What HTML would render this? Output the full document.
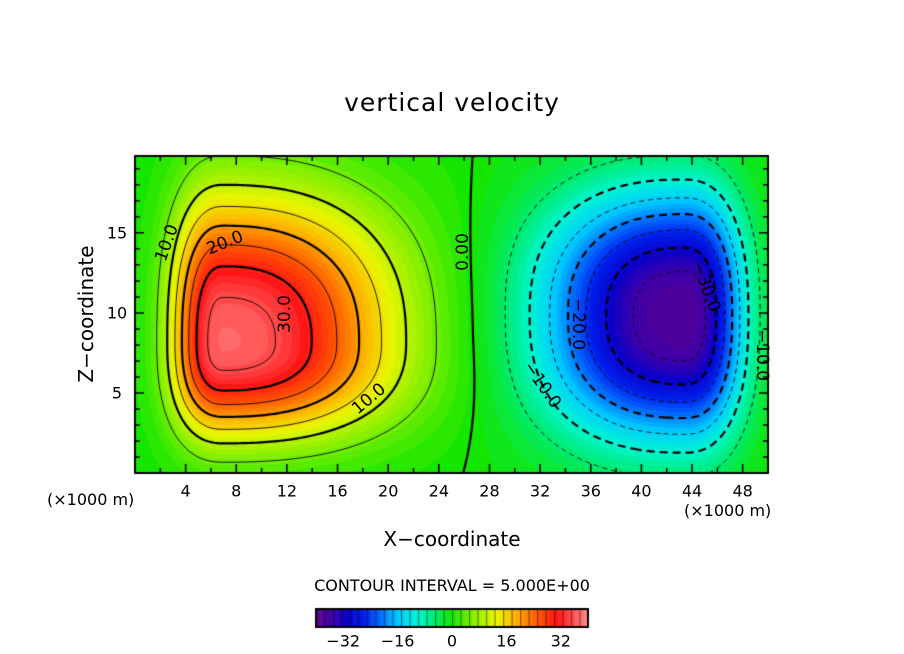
<!DOCTYPE html>
<html><head><meta charset="utf-8">
<style>
html,body{margin:0;padding:0;background:#fff;}
#wrap{position:relative;width:904px;height:654px;overflow:hidden;font-family:"DejaVu Sans","Liberation Sans",sans-serif;color:#000;}
.t{position:absolute;white-space:nowrap;}
canvas{position:absolute;left:0;top:0;}
</style></head>
<body>
<div id="wrap">
<canvas id="cv" width="904" height="654"></canvas>
<div class="t" style="left:0;width:904px;text-align:center;top:88px;font-size:25px;letter-spacing:1px;">vertical velocity</div>
<div class="t" style="left:86px;top:314px;font-size:20px;transform:translate(-50%,-50%) rotate(-90deg);">Z−coordinate</div>
<div class="t" style="left:0;width:904px;text-align:center;top:527px;font-size:20px;">X−coordinate</div>
<div class="t" style="left:47px;top:490px;font-size:16px;">(×1000 m)</div>
<div class="t" style="left:684px;top:501px;font-size:16px;">(×1000 m)</div>
<div class="t" style="left:0;width:904px;text-align:center;top:576px;font-size:16px;">CONTOUR INTERVAL = 5.000E+00</div>
<div id="labels"></div>
</div>
<script>
// Field model data (blob parameters)
const blobAmp = [37, -38];
const blobX = [7, 43.4];
const blobZ = [8.2, 9.8];
const blobSxLeft = [4, 11];
const blobSxRight = [13, 4.5];
const blobSzDown = [5.7, 7.6];
const blobSzUp = [8.8, 7.6];
const xTicks = [4, 8, 12, 16, 20, 24, 28, 32, 36, 40, 44, 48];
const zTicks = [5, 10, 15];
const cbTicks = [-32, -16, 0, 16, 32];
const levels = [-35, -30, -25, -20, -15, -10, -5, 0, 5, 10, 15, 20, 25, 30, 35];

const PL = 135, PR = 768, PT = 156, PB = 473;
const XMAX = 50, ZMAX = 19.8;
const sx = x => PL + x / XMAX * (PR - PL);
const sz = z => PB - z / ZMAX * (PB - PT);
const CBL = 316, CBR = 588, CBT = 609, CBB = 627, CMIN = -40, CMAX = 40;
const cx = v => CBL + (v - CMIN) / (CMAX - CMIN) * (CBR - CBL);

function field(x, z) {
  let f = 0;
  for (let i = 0; i < blobAmp.length; i++) {
    const dx = x - blobX[i], dz = z - blobZ[i];
    const ax = dx < 0 ? blobSxLeft[i] : blobSxRight[i];
    const az = dz < 0 ? blobSzDown[i] : blobSzUp[i];
    const r = Math.pow(Math.abs(dx / ax) ** 2.4 + Math.abs(dz / az) ** 2.4, 1 / 2.4);
    f += blobAmp[i] * Math.exp(-(r ** 2.5));
  }
  return f;
}
const stops = [[-40,[95,0,140]],[-35,[60,0,170]],[-31,[10,0,200]],[-26,[0,30,235]],[-21,[0,110,255]],[-16,[0,200,255]],[-10,[0,245,210]],[-5,[0,235,110]],[0,[20,230,0]],[6,[130,240,0]],[13,[235,245,0]],[19,[255,175,0]],[25,[255,90,0]],[31,[255,20,20]],[40,[255,140,140]]];
function color(v) {
  v = Math.max(-40, Math.min(40, v));
  for (let i = 0; i < stops.length - 1; i++) {
    const [a, ca] = stops[i], [b, cb] = stops[i + 1];
    if (v <= b) { const t = (v - a) / (b - a); return ca.map((c, k) => Math.round(c + (cb[k] - c) * t)); }
  }
  return stops[stops.length - 1][1];
}
const cv = document.getElementById('cv'), ctx = cv.getContext('2d');
const img = ctx.createImageData(PR - PL, PB - PT);
for (let py = 0; py < PB - PT; py++) for (let px = 0; px < PR - PL; px++) {
  const x = (px + 0.5) / (PR - PL) * XMAX, z = ZMAX - (py + 0.5) / (PB - PT) * ZMAX;
  const v = Math.round(field(x, z) / 1.25) * 1.25;
  const c = color(v), o = (py * (PR - PL) + px) * 4;
  img.data[o] = c[0]; img.data[o + 1] = c[1]; img.data[o + 2] = c[2]; img.data[o + 3] = 255;
}
ctx.putImageData(img, PL, PT);
const NX = 200, NZ = 80, G = [];
for (let j = 0; j <= NZ; j++) { G.push([]); for (let i = 0; i <= NX; i++) G[j].push(field(i / NX * XMAX, j / NZ * ZMAX)); }
ctx.save(); ctx.beginPath(); ctx.rect(PL, PT, PR - PL, PB - PT); ctx.clip();
levels.forEach(L => {
  const pos = {}, adj = {};
  const link = (a, b) => { (adj[a] = adj[a] || []).push(b); (adj[b] = adj[b] || []).push(a); };
  for (let j = 0; j < NZ; j++) for (let i = 0; i < NX; i++) {
    const v = [G[j][i], G[j][i + 1], G[j + 1][i + 1], G[j + 1][i]];
    const p = [[i, j], [i + 1, j], [i + 1, j + 1], [i, j + 1]];
    const keys = ['h' + i + ',' + j, 'v' + (i + 1) + ',' + j, 'h' + i + ',' + (j + 1), 'v' + i + ',' + j];
    const ks = [];
    for (let k = 0; k < 4; k++) {
      const a = v[k], b = v[(k + 1) % 4];
      if ((a < L) !== (b < L)) {
        const t = (L - a) / (b - a), pa = p[k], pb = p[(k + 1) % 4];
        pos[keys[k]] = [sx((pa[0] + (pb[0] - pa[0]) * t) / NX * XMAX), sz((pa[1] + (pb[1] - pa[1]) * t) / NZ * ZMAX)];
        ks.push(keys[k]);
      }
    }
    if (ks.length >= 2) link(ks[0], ks[1]);
    if (ks.length === 4) link(ks[2], ks[3]);
  }
  const used = new Set();
  const edgeKey = (a, b) => a < b ? a + '|' + b : b + '|' + a;
  ctx.lineWidth = (L % 10 === 0) ? 2.2 : 0.9;
  ctx.strokeStyle = '#000';
  ctx.setLineDash(L < 0 ? (L % 10 === 0 ? [8, 5] : [5, 4]) : []);
  const starts = Object.keys(adj).sort((a, b) => adj[a].length - adj[b].length);
  starts.forEach(s => {
    let cur = s, next = (adj[cur] || []).find(n => !used.has(edgeKey(cur, n)));
    if (!next) return;
    ctx.beginPath(); ctx.moveTo(pos[cur][0], pos[cur][1]);
    while (next) {
      used.add(edgeKey(cur, next));
      ctx.lineTo(pos[next][0], pos[next][1]);
      cur = next;
      next = adj[cur].find(n => !used.has(edgeKey(cur, n)));
    }
    ctx.stroke();
  });
});
ctx.restore(); ctx.setLineDash([]);
ctx.strokeStyle = '#000'; ctx.lineWidth = 2;
ctx.strokeRect(PL, PT, PR - PL, PB - PT);
ctx.lineWidth = 1.5;
for (let x = 2; x < XMAX; x += 2) {
  const len = x % 4 === 0 ? 9 : 5;
  ctx.beginPath(); ctx.moveTo(sx(x), PB); ctx.lineTo(sx(x), PB - len); ctx.moveTo(sx(x), PT); ctx.lineTo(sx(x), PT + len); ctx.stroke();
}
for (let z = 1; z < ZMAX; z += 1) {
  const len = z % 5 === 0 ? 9 : 5;
  ctx.beginPath(); ctx.moveTo(PL, sz(z)); ctx.lineTo(PL + len, sz(z)); ctx.moveTo(PR, sz(z)); ctx.lineTo(PR - len, sz(z)); ctx.stroke();
}
for (let v = CMIN; v < CMAX; v += 1.25) {
  const c = color(v + 0.625);
  ctx.fillStyle = `rgb(${c[0]},${c[1]},${c[2]})`;
  ctx.fillRect(cx(v), CBT, cx(v + 1.25) - cx(v) + 0.5, CBB - CBT);
  if (Math.round(v / 1.25) % 2 === 0) { ctx.fillStyle = 'rgba(0,0,0,0.45)'; ctx.fillRect(cx(v), CBT, 1.2, CBB - CBT); }
}
ctx.lineWidth = 2; ctx.strokeRect(CBL, CBT, CBR - CBL, CBB - CBT);

const lab = document.getElementById('labels');
function addText(txt, x, y, size, name, rot) {
  const d = document.createElement('div');
  d.className = 't';
  
  
  d.textContent = txt;
  d.style.left = x + 'px'; d.style.top = y + 'px'; d.style.fontSize = size + 'px';
  d.style.transform = 'translate(-50%,-50%)' + (rot ? ' rotate(' + rot + 'deg)' : '');
  lab.appendChild(d);
}
xTicks.forEach(t => addText(String(t), sx(t), 491, 16, 'x-tick-label'));
zTicks.forEach(t => addText(String(t), 117, sz(t), 16, 'z-tick-label'));
cbTicks.forEach(t => addText(t < 0 ? '−' + (-t) : String(t), cx(t), 641, 16, 'colorbar-tick-label'));
addText('10.0', 167, 243, 17, 'contour-label', -70);
addText('20.0', 225, 243, 17, 'contour-label', -22);
addText('30.0', 285, 314, 17, 'contour-label', -90);
addText('10.0', 369, 399, 17, 'contour-label', -40);
addText('0.00', 463, 252, 17, 'contour-label', -90);
addText('−20.0', 578, 324, 17, 'contour-label', 90);
addText('−10.0', 542, 385, 17, 'contour-label', 55);
addText('−30.0', 706, 287, 17, 'contour-label', 70);
addText('−10.0', 762, 355, 17, 'contour-label', 90);
</script>
</body></html>
